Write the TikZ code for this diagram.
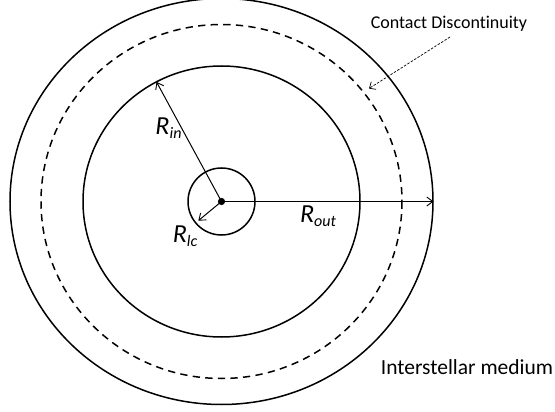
\documentclass[tikz,border=0pt]{standalone}
\usepackage{fontspec}
\setmainfont{Carlito}[Ligatures={NoCommon,NoRare,NoDiscretionary}]
\usetikzlibrary{arrows.meta}
\tikzset{
  ring/.style={line width=1.5pt},
  dashring/.style={line width=1.5pt, dash pattern=on 7.3pt off 5.3pt},
  radarrow/.style={line width=1pt, -{Straight Barb[length=6pt,width=9pt,line width=0.9pt]}},
  leader/.style={line width=0.7pt, dash pattern=on 2.5pt off 1.5pt, -{Straight Barb[length=5pt,width=9pt,line width=0.7pt]}},
  rlabel/.style={inner sep=0pt, font=\fontsize{26}{26}\selectfont\itshape},
}
\newcommand{\subs}[1]{\raisebox{-4.5pt}{\fontsize{16}{16}\selectfont\itshape #1}}
\begin{document}
\begin{tikzpicture}[x=1pt,y=-1pt]
\useasboundingbox (0,0) rectangle (555,412);
\coordinate (c) at (221.5,201.5);
% rings
\draw[ring] (c) ellipse [x radius=211.5, y radius=203];
\draw[dashring] (c) ellipse [x radius=180.5, y radius=177];
\draw[ring] (c) ellipse [x radius=138.5, y radius=135.5];
\draw[ring] (c) ellipse [x radius=33.5, y radius=33.5];
% arrow ends
\coordinate (rin) at (156.5,81.9);
\coordinate (rlc) at (198.3,220.7);
\coordinate (rout) at (433.5,201.5);
\draw[radarrow] (c) -- (rin);
\draw[radarrow] (c) -- (rlc);
\draw[radarrow, line width=1.3pt] (c) -- (rout);
\fill (c) circle [radius=3.6];
% labels
\node[rlabel] (lin) at (168.5,128) {R\subs{in}};
\node[rlabel] (lout) at (318,216) {R\subs{out}};
\node[rlabel] (llc) at (185,236) {R\subs{lc}};
% contact discontinuity
\node[inner sep=0pt, font=\fontsize{18}{18}\selectfont] (cd) at (449,24) {Contact Discontinuity};
\coordinate (cdtip) at (369,88.5);
\coordinate (cdstart) at (450,37);
\draw[leader] (cdstart) -- (cdtip);
% ISM
\node[inner sep=0pt, font=\fontsize{21.5}{21.5}\selectfont] (ism) at (467,367) {Interstellar medium};
\end{tikzpicture}
\end{document}
